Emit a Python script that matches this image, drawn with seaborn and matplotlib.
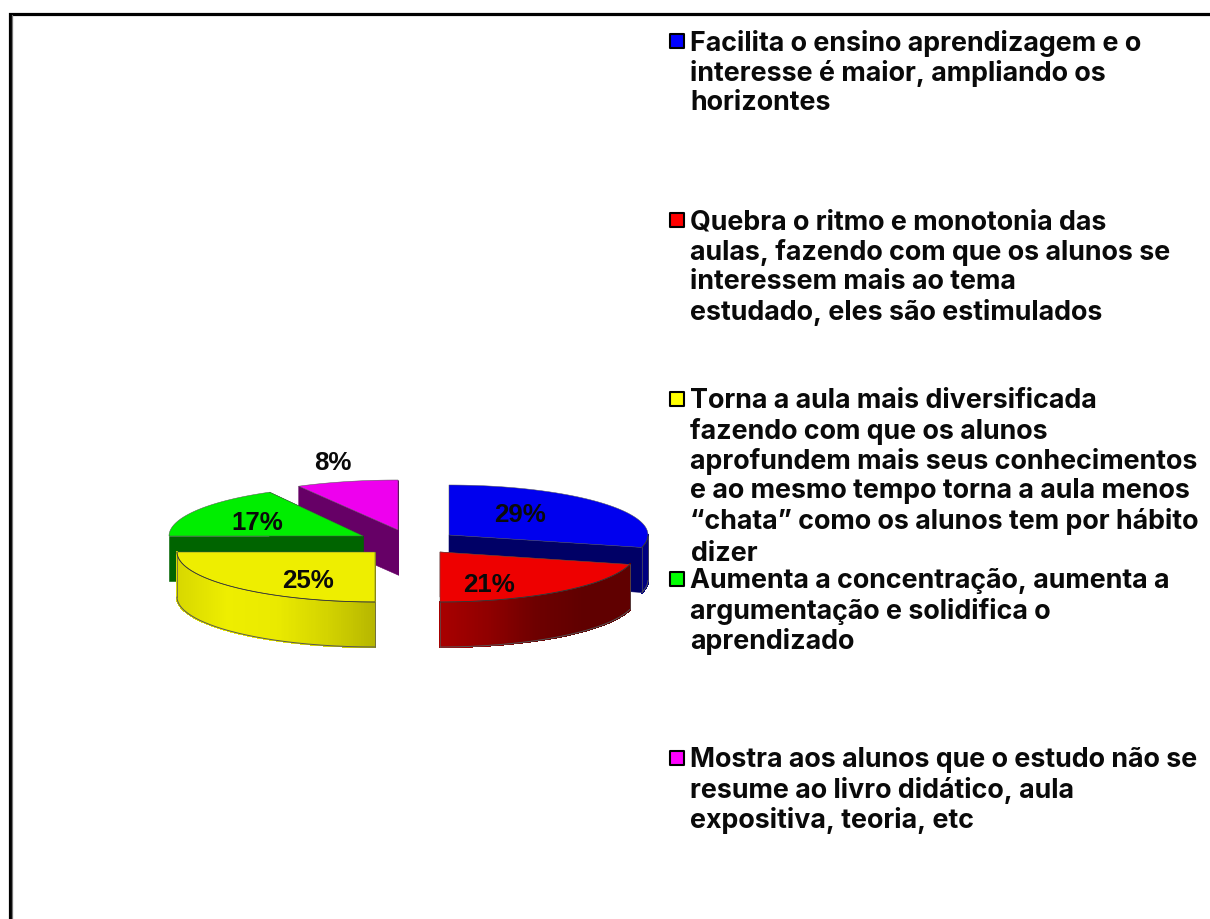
import numpy as np
import matplotlib
matplotlib.use("Agg")
import matplotlib.pyplot as plt
import seaborn as sns
from matplotlib.collections import PolyCollection

# ---- data ----
categories = [
    "Facilita o ensino aprendizagem e o\ninteresse é maior, ampliando os\nhorizontes",
    "Quebra o ritmo e monotonia das\naulas, fazendo com que os alunos se\ninteressem mais ao tema\nestudado, eles são estimulados",
    "Torna a aula mais diversificada\nfazendo com que os alunos\naprofundem mais seus conhecimentos\ne ao mesmo tempo torna a aula menos\n“chata” como os alunos tem por hábito\ndizer",
    "Aumenta a concentração, aumenta a\nargumentação e solidifica o\naprendizado",
    "Mostra aos alunos que o estudo não se\nresume ao livro didático, aula\nexpositiva, teoria, etc",
]
shares = [29, 21, 25, 17, 8]
share_labels = ["29%", "21%", "25%", "17%", "8%"]

# ---- layout and style (pixels of the 1210x920 figure) ----
top_colors = ["#0000ee", "#ee0000", "#eeee00", "#00ee00", "#ee00ee"]
swatch_colors = ["#0000ff", "#ff0000", "#ffff00", "#00ff00", "#ff00ff"]
cut_colors = ["#000066", "#660000", "#999900", "#006400", "#660066"]
side_ramps = [
    ["#000080", "#000080"],
    ["#a80000", "#900000", "#6e0000", "#600000", "#600000"],
    ["#d8d800", "#eeee00", "#eaea00", "#d4d400", "#b6b600"],
    ["#006400", "#006400"],
    ["#660066", "#660066"],
]
apexes = [(449, 536), (440, 553), (375, 553), (363, 537), (398, 531)]
radii_x = [199, 196, 198, 194, 206]
label_xy = [(520, 515), (489, 585), (308, 581), (257, 523), (333, 463)]
RY, DEPTH = 50, 45
legend_x, swatch_x = 690.5, 677
legend_line_ys = [
    [43.5, 73.5, 103.5],
    [222.5, 252.5, 282.5, 312.5],
    [401.5, 431.5, 461.5, 491.5, 521.5, 554.5],
    [581.5, 611.5, 641.5],
    [760.5, 790.5, 820.5],
]
draw_order = [4, 3, 0, 1, 2]

sns.set_theme(style="white")
plt.rcParams["font.family"] = ["Liberation Sans", "DejaVu Sans"]

fig = plt.figure(figsize=(12.1, 9.2), dpi=100, facecolor="white")
ax = fig.add_axes([0, 0, 1, 1])
ax.set_xlim(0, 1210)
ax.set_ylim(920, 0)
ax.axis("off")

# frame: open to the right and at the bottom
ax.plot([9.5, 9.5, 1210], [920, 14.5, 14.5], color="black", lw=2.3, solid_joinstyle="miter")
ax.plot([11.5, 11.5], [920, 16], color="#777777", lw=0.9)

# angles run clockwise from 12 o'clock
bounds = np.concatenate([[0], np.cumsum(shares)]) / np.sum(shares) * 2 * np.pi

for rank, i in enumerate(draw_order):
    a0, a1 = bounds[i], bounds[i + 1]
    px, py = apexes[i]
    t = np.linspace(a0, a1, 160)
    x = px + radii_x[i] * np.sin(t)
    y = py - RY * np.cos(t)
    base = 2 + rank

    # flat cut faces
    for xe, ye in ((x[0], y[0]), (x[-1], y[-1])):
        ax.fill([px, xe, xe, px], [py, ye, ye + DEPTH, py + DEPTH],
                color=cut_colors[i], lw=0.4, zorder=base)

    # curved outer wall, only on the near half of the ellipse
    near = np.cos(t) < 0
    if near.sum() > 1:
        xn, yn = x[near], y[near]
        ramp = sns.blend_palette(side_ramps[i], n_colors=256)
        polys, cols = [], []
        span = max(xn.max() - xn.min(), 1)
        for j in range(len(xn) - 1):
            polys.append([(xn[j], yn[j]), (xn[j + 1], yn[j + 1]),
                          (xn[j + 1], yn[j + 1] + DEPTH), (xn[j], yn[j] + DEPTH)])
            cols.append(ramp[int(255 * (xn[j] - xn.min()) / span)])
        ax.add_collection(PolyCollection(polys, facecolors=cols, edgecolors=cols,
                                         linewidths=1.0, antialiaseds=False, zorder=base + 0.1))
        ax.plot(xn, yn + DEPTH, color="#555555", lw=0.7, zorder=base + 0.2)
        ax.plot([xn[0], xn[0]], [yn[0], yn[0] + DEPTH], color="#555555", lw=0.5, zorder=base + 0.2)
        ax.plot([xn[-1], xn[-1]], [yn[-1], yn[-1] + DEPTH], color="#555555", lw=0.5, zorder=base + 0.2)

    # top surface
    ax.fill(np.r_[px, x], np.r_[py, y], facecolor=top_colors[i],
            edgecolor="#555555", lw=0.35, zorder=base + 0.3)
    if near.sum() > 1:
        ax.plot(x[near], y[near], color="#333333", lw=0.6, zorder=base + 0.4)

for lab, (lx, ly) in zip(share_labels, label_xy):
    ax.text(lx, ly, lab, ha="center", va="center", fontsize=18.6, fontweight="bold",
            color="#0a0a0a", zorder=20)

# legend: Inter bold is about as wide as the reference's hinted Arial bold
legend_family = ["Inter", "Liberation Sans", "DejaVu Sans"]
legend_size = 16.0
renderer = fig.canvas.get_renderer()
probe = ax.text(0, 0, categories[0].split("\n")[0], fontsize=legend_size,
                fontweight="bold", family=legend_family)
legend_size *= 453 / probe.get_window_extent(renderer).width
probe.remove()

for i, (entry, ys) in enumerate(zip(categories, legend_line_ys)):
    ax.scatter([swatch_x], [ys[0] - 1.5], marker="s", s=92, facecolor=swatch_colors[i],
               edgecolor="black", linewidth=1.5, zorder=20)
    for line, ly in zip(entry.split("\n"), ys):
        ax.text(legend_x, ly, line, ha="left", va="center", fontsize=legend_size,
                fontweight="bold", family=legend_family, color="#0a0a0a", zorder=20)

fig.savefig("out.png", dpi=100, facecolor="white")
